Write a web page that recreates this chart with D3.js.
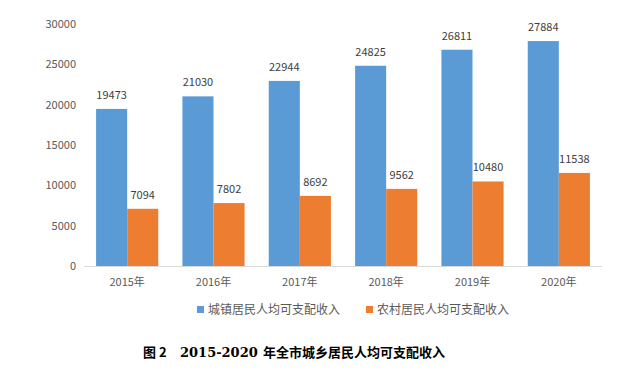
<!DOCTYPE html>
<html>
<head>
<meta charset="utf-8">
<script src="https://cdn.jsdelivr.net/npm/d3@7"></script>
<style>
  body { margin: 0; background: #fff; }
  svg { display: block; }
  text { font-family: "Noto Sans CJK SC", "Noto Sans", sans-serif; }
</style>
</head>
<body>
<svg id="chart"></svg>
<script>
// years on the x axis
const years = ["2015年", "2016年", "2017年", "2018年", "2019年", "2020年"];
// per-capita disposable income
const urban = [19473, 21030, 22944, 24825, 26811, 27884];
const rural = [7094, 7802, 8692, 9562, 10480, 11538];
const seriesNames = ["城镇居民人均可支配收入", "农村居民人均可支配收入"];
const yTicks = [0, 5000, 10000, 15000, 20000, 25000, 30000];
// caption pieces: figure no., year range, title
const captionParts = ["图 2", "2015-2020", "年全市城乡居民人均可支配收入"];

const width = 632, height = 371;
const colors = ["#5B9BD5", "#ED7D31"];

const svg = d3.select("#chart")
  .attr("width", width)
  .attr("height", height);

const x = d3.scaleBand()
  .domain(years)
  .range([84, 602])
  .paddingInner(0.28)
  .paddingOuter(0.14);

const x1 = d3.scaleBand()
  .domain([0, 1])
  .range([0, x.bandwidth()]);

const y = d3.scaleLinear()
  .domain([0, 30000])
  .range([266, 24]);

// y tick labels (no axis line, no gridlines)
svg.append("g")
  .selectAll("text")
  .data(yTicks)
  .join("text")
  .attr("x", 76)
  .attr("y", d => y(d))
  .attr("dy", "0.35em")
  .attr("text-anchor", "end")
  .attr("font-size", 11)
  .attr("fill", "#595959")
  .text(d => d);

const rows = years.map((yr, i) => ({ yr, vals: [urban[i], rural[i]] }));

const groups = svg.append("g")
  .selectAll("g")
  .data(rows)
  .join("g")
  .attr("transform", d => `translate(${x(d.yr)},0)`);

groups.selectAll("rect")
  .data(d => d.vals.map((v, k) => ({ v, k })))
  .join("rect")
  .attr("x", d => x1(d.k))
  .attr("y", d => y(d.v))
  .attr("width", x1.bandwidth())
  .attr("height", d => y(0) - y(d.v))
  .attr("fill", d => colors[d.k]);

groups.selectAll("text.val")
  .data(d => d.vals.map((v, k) => ({ v, k })))
  .join("text")
  .attr("class", "val")
  .attr("x", d => x1(d.k) + x1.bandwidth() / 2)
  .attr("y", d => y(d.v) - 10)
  .attr("text-anchor", "middle")
  .attr("font-size", 11)
  .attr("fill", "#404040")
  .text(d => d.v);

// baseline
svg.append("line")
  .attr("x1", 84).attr("x2", 602)
  .attr("y1", y(0) + 0.5).attr("y2", y(0) + 0.5)
  .attr("stroke", "#d9d9d9");

// category labels
svg.append("g")
  .selectAll("text")
  .data(years)
  .join("text")
  .attr("x", d => x(d) + x.bandwidth() / 2)
  .attr("y", 282)
  .attr("dy", "0.35em")
  .attr("text-anchor", "middle")
  .attr("font-size", 11)
  .attr("fill", "#595959")
  .text(d => d);

// legend
const legendX = [197, 366];
const legend = svg.append("g")
  .selectAll("g")
  .data(seriesNames)
  .join("g")
  .attr("transform", (d, i) => `translate(${legendX[i]},310)`);

legend.append("rect")
  .attr("x", 0).attr("y", -4)
  .attr("width", 7).attr("height", 7)
  .attr("fill", (d, i) => colors[i]);

legend.append("text")
  .attr("x", 11)
  .attr("dy", "0.35em")
  .attr("font-size", 12)
  .attr("fill", "#595959")
  .text(d => d);

// caption
const capX = [143, 180, 263];
const cap = svg.append("text")
  .attr("y", 352)
  .attr("dy", "0.35em")
  .attr("font-size", 13)
  .attr("font-weight", "bold")
  .attr("fill", "#000");

cap.selectAll("tspan")
  .data(captionParts)
  .join("tspan")
  .attr("x", (d, i) => capX[i])
  .attr("font-family", (d, i) => i === 1 ? "'DejaVu Serif', serif" : null)
  .text(d => d);
</script>
</body>
</html>
